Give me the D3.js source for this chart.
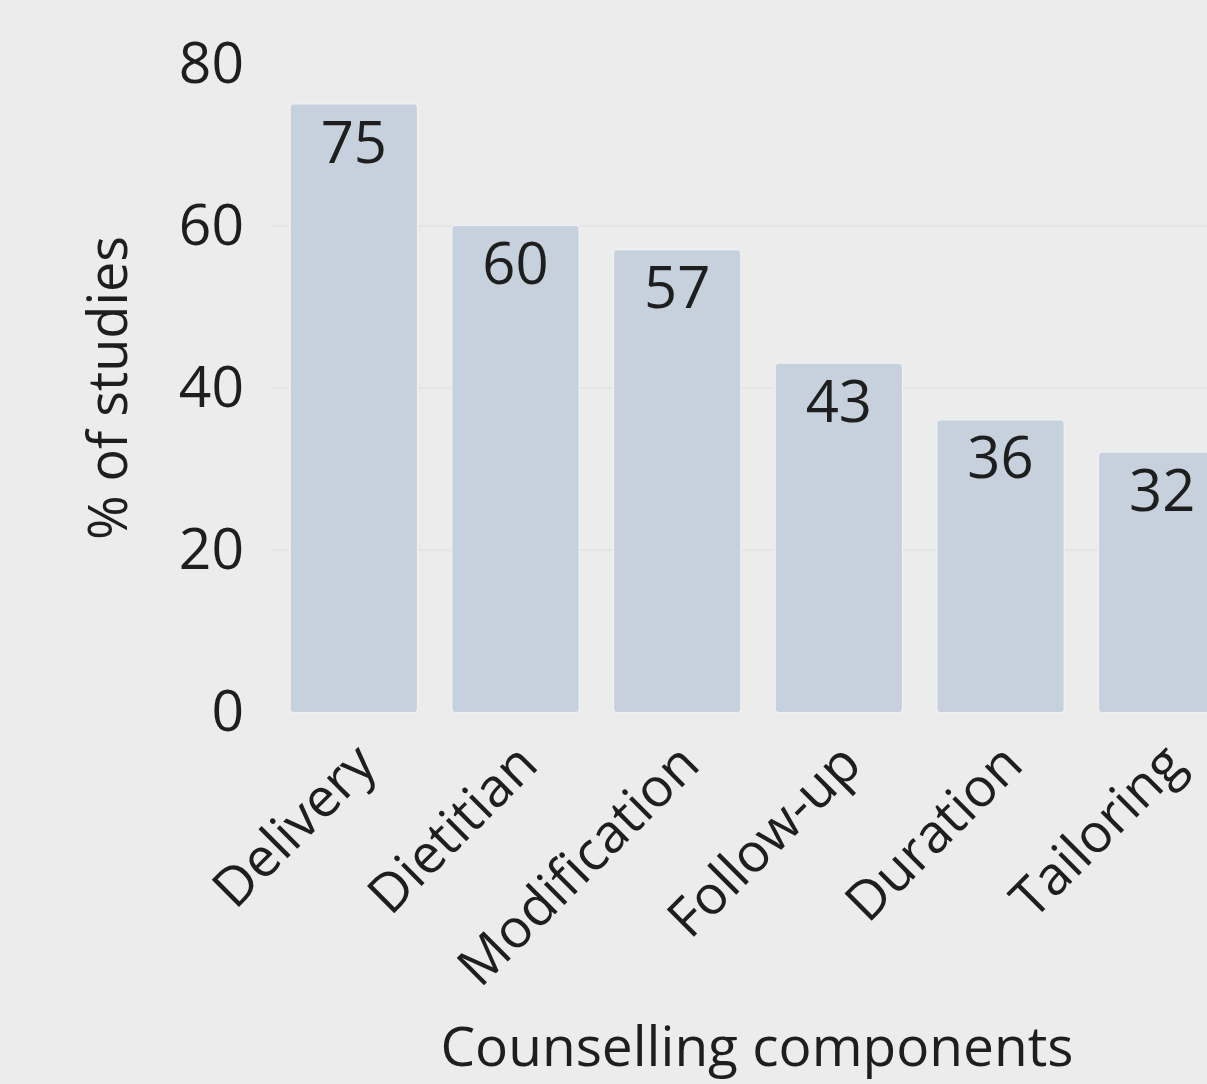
<!DOCTYPE html>
<html>
<head>
<meta charset="utf-8">
<script src="https://cdn.jsdelivr.net/npm/d3@7"></script>
<style>
  html, body { margin: 0; padding: 0; background: #ececec; overflow: hidden; }
  svg { display: block; font-family: "Open Sans", sans-serif; }
</style>
</head>
<body>
<div id="chart"></div>
<script>
// bar chart: share of studies per counselling component
const categories = ["Delivery", "Dietitian", "Modification", "Follow-up", "Duration", "Tailoring"];
const values = [75, 60, 57, 43, 36, 32];
const yTicks = [0, 20, 40, 60, 80];
const gridTicks = [20, 40, 60];

const width = 1207;
const height = 1084;

const svg = d3.select("#chart")
    .append("svg")
    .attr("width", width)
    .attr("height", height);

svg.append("rect")
    .attr("width", width)
    .attr("height", height)
    .attr("fill", "#ececec");

// scales (last bar runs off the right edge, as in the source)
const xScale = d3.scaleBand()
    .domain(categories)
    .range([273, 1243])
    .paddingInner(0.22)
    .paddingOuter(0.11);

const yScale = d3.scaleLinear()
    .domain([0, 80])
    .range([712, 64]);

// faint gridlines
svg.append("g")
    .selectAll("line")
    .data(gridTicks)
    .enter()
    .append("line")
    .attr("x1", 273)
    .attr("x2", width)
    .attr("y1", d => yScale(d))
    .attr("y2", d => yScale(d))
    .attr("stroke", "#e4e4e4")
    .attr("stroke-width", 2);

// bars
svg.selectAll(".bar")
    .data(values)
    .enter()
    .append("rect")
    .attr("class", "bar")
    .attr("x", (d, i) => xScale(categories[i]))
    .attr("y", d => yScale(d))
    .attr("width", xScale.bandwidth())
    .attr("height", d => yScale(0) - yScale(d))
    .attr("rx", 3)
    .attr("fill", "#c7d1dd")
    .attr("stroke", "#f0f0f2")
    .attr("stroke-width", 3)
    .attr("paint-order", "stroke");

// value labels inside bar tops
svg.selectAll(".val")
    .data(values)
    .enter()
    .append("text")
    .attr("class", "val")
    .attr("x", (d, i) => xScale(categories[i]) + xScale.bandwidth() / 2)
    .attr("y", d => yScale(d) + 58)
    .attr("text-anchor", "middle")
    .attr("font-size", 58)
    .attr("fill", "#1e1e1e")
    .text(d => d);

// y axis, labels only
const yAxis = svg.append("g")
    .attr("transform", "translate(273,0)")
    .call(d3.axisLeft(yScale).tickValues(yTicks).tickSize(0).tickPadding(29));
yAxis.select(".domain").remove();
yAxis.selectAll("text")
    .attr("font-family", "Open Sans, sans-serif")
    .attr("font-size", 57)
    .attr("fill", "#1e1e1e");

// category labels, rotated
svg.selectAll(".cat")
    .data(categories)
    .enter()
    .append("text")
    .attr("class", "cat")
    .attr("transform", d => `translate(${xScale(d) + xScale.bandwidth() / 2 + 25},767) rotate(-45)`)
    .attr("text-anchor", "end")
    .attr("font-size", 54)
    .attr("fill", "#1e1e1e")
    .text(d => d);

// axis titles
svg.append("text")
    .attr("transform", "translate(127,388) rotate(-90)")
    .attr("text-anchor", "middle")
    .attr("font-size", 54)
    .attr("fill", "#1e1e1e")
    .text("% of studies");

svg.append("text")
    .attr("x", 757)
    .attr("y", 1066)
    .attr("text-anchor", "middle")
    .attr("font-size", 55)
    .attr("fill", "#1e1e1e")
    .text("Counselling components");
</script>
</body>
</html>
